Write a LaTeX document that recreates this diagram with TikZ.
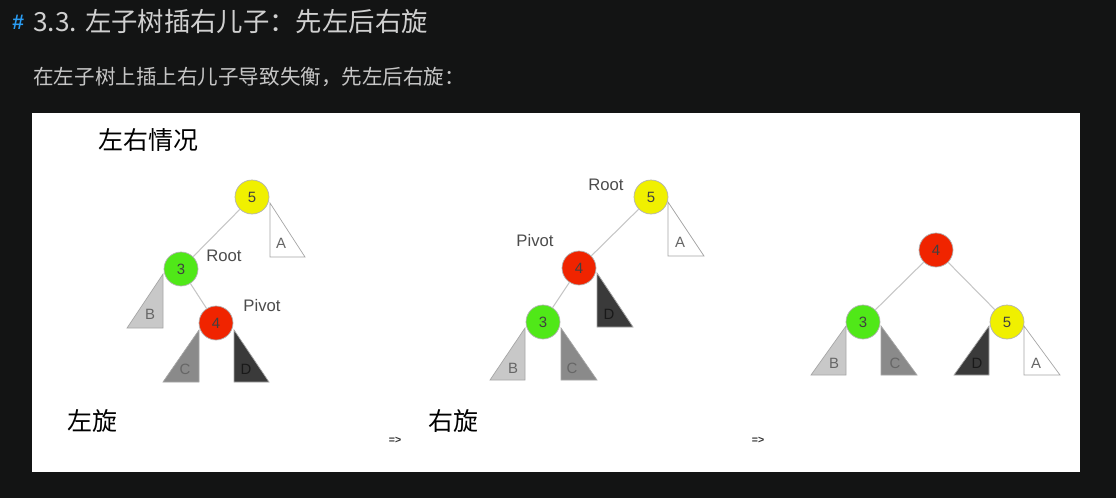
\documentclass[tikz,border=0pt]{standalone}
\usepackage{fontspec}
\setmainfont{Liberation Sans}
\newfontfamily\cjk{Noto Sans CJK SC}
\usetikzlibrary{positioning}
\definecolor{BGdark}{RGB}{19,20,20}
\definecolor{HDblue}{RGB}{42,157,244}
\definecolor{HDtext}{RGB}{208,208,208}
\definecolor{AVLyellow}{RGB}{240,240,0}
\definecolor{AVLgreen}{RGB}{80,232,24}
\definecolor{AVLred}{RGB}{240,36,0}
\definecolor{SUBlight}{RGB}{200,200,200}
\definecolor{SUBmid}{RGB}{138,138,138}
\definecolor{SUBdark}{RGB}{58,58,58}

\begin{document}
\begin{tikzpicture}[
  x=0.02cm,y=-0.02cm,
  avl/.style={circle,draw=gray!60,line width=0.4pt,minimum size=0.68cm,inner sep=0pt,font=\fontsize{8.5}{9}\selectfont,text=black!75},
  edge/.style={draw=gray!45,line width=0.6pt},
  sub/.style={draw=gray!70,line width=0.4pt},
  sublbl/.style={font=\fontsize{8.5}{9}\selectfont,text=black!60},
  role/.style={font=\fontsize{9.5}{10}\selectfont,text=black!70},
  cjklbl/.style={font=\cjk\fontsize{14.2}{16}\selectfont,text=black,anchor=west,inner sep=0pt},
  step arrow/.style={font=\bfseries\fontsize{6}{7}\selectfont,text=black!80},
]

% Fondo y panel
\path[fill=BGdark] (0,0) rectangle (1116,498);
\path[fill=white] (32,113) rectangle (1080,472);

% Encabezado
\node[anchor=west,inner sep=0pt,text=HDblue,font=\bfseries\fontsize{12}{14}\selectfont] (hash) at (12,22) {\#};
\node[anchor=west,inner sep=0pt,text=HDtext,font=\cjk\fontsize{15}{17}\selectfont] (title) at (33,22) {3.3. 左子树插右儿子：先左后右旋};
\node[anchor=west,inner sep=0pt,text=HDtext!95!black,font=\cjk\fontsize{11.7}{14}\selectfont] (intro) at (33,77) {在左子树上插上右儿子导致失衡，先左后右旋：};

\node[cjklbl] (case) at (98,140) {左右情况};

% Arbol 1: desbalanceado
\node[avl,fill=AVLyellow] (a5) at (252,197) {5};
\node[avl,fill=AVLgreen] (a3) at (181,269) {3};
\node[avl,fill=AVLred] (a4) at (216,323) {4};
\draw[edge] (a5) -- (a3);
\draw[edge] (a3) -- (a4);
\draw[sub,fill=white] (270,203) -- (270,257) -- (305,257) -- cycle;
\draw[sub,fill=SUBlight] (163,274) -- (163,328) -- (127,328) -- cycle;
\draw[sub,fill=SUBmid] (199,330) -- (199,382) -- (163,382) -- cycle;
\draw[sub,fill=SUBdark] (234,330) -- (234,382) -- (269,382) -- cycle;
\node[sublbl] (aA) at (281,243) {A};
\node[sublbl] (aB) at (150,314) {B};
\node[sublbl] (aC) at (185,369) {C};
\node[sublbl,text=black!90] (aD) at (246,369) {D};
\node[role] (aroot) at (224,256) {Root};
\node[role] (apivot) at (262,306) {Pivot};

% Arbol 2: tras rotar a la izquierda
\node[avl,fill=AVLyellow] (b5) at (651,197) {5};
\node[avl,fill=AVLred] (b4) at (579,268) {4};
\node[avl,fill=AVLgreen] (b3) at (543,322) {3};
\draw[edge] (b5) -- (b4);
\draw[edge] (b4) -- (b3);
\draw[sub,fill=white] (668,202) -- (668,256) -- (704,256) -- cycle;
\draw[sub,fill=SUBdark] (597,273) -- (597,327) -- (633,327) -- cycle;
\draw[sub,fill=SUBlight] (525,328) -- (525,380) -- (490,380) -- cycle;
\draw[sub,fill=SUBmid] (561,328) -- (561,380) -- (597,380) -- cycle;
\node[sublbl] (bA) at (680,242) {A};
\node[sublbl,text=black!90] (bD) at (609,314) {D};
\node[sublbl] (bB) at (513,368) {B};
\node[sublbl] (bC) at (572,368) {C};
\node[role] (broot) at (606,185) {Root};
\node[role] (bpivot) at (535,241) {Pivot};

% Arbol 3: tras rotar a la derecha
\node[avl,fill=AVLred] (c4) at (936,250) {4};
\node[avl,fill=AVLgreen] (c3) at (863,322) {3};
\node[avl,fill=AVLyellow] (c5) at (1007,322) {5};
\draw[edge] (c4) -- (c3);
\draw[edge] (c4) -- (c5);
\draw[sub,fill=SUBlight] (846,326) -- (846,375) -- (811,375) -- cycle;
\draw[sub,fill=SUBmid] (881,326) -- (881,375) -- (917,375) -- cycle;
\draw[sub,fill=SUBdark] (989,326) -- (989,375) -- (954,375) -- cycle;
\draw[sub,fill=white] (1024,326) -- (1024,375) -- (1060,375) -- cycle;
\node[sublbl] (cB) at (834,363) {B};
\node[sublbl] (cC) at (895,363) {C};
\node[sublbl,text=black!90] (cD) at (977,363) {D};
\node[sublbl] (cA) at (1036,363) {A};

% Pasos
\node[cjklbl] (left) at (67,421) {左旋};
\node[step arrow] (arr1) at (395,440) {=>};
\node[cjklbl] (right) at (428,421) {右旋};
\node[step arrow] (arr2) at (758,440) {=>};

\end{tikzpicture}
\end{document}
